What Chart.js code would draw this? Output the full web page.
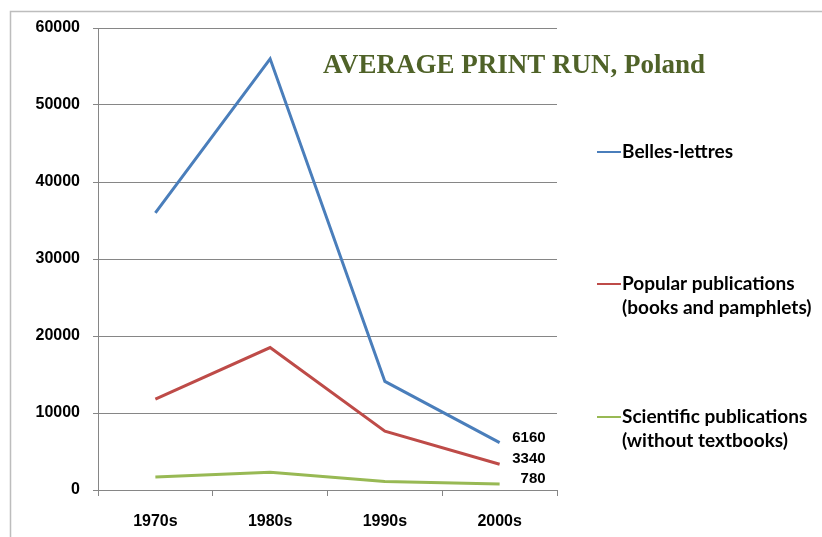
<!DOCTYPE html>
<html>
<head>
<meta charset="utf-8">
<script src="https://cdn.jsdelivr.net/npm/chart.js@4.4.1/dist/chart.umd.min.js"></script>
<style>
  html, body { margin: 0; padding: 0; background: #fff; }
  #wrap { width: 822px; height: 537px; position: relative; }
</style>
</head>
<body>
<div id="wrap"><canvas id="myChart" width="822" height="537"></canvas></div>
<script>
// Data
const decades = ['1970s', '1980s', '1990s', '2000s'];
const bellesLettres = [36000, 56000, 14100, 6160];
const popularPubs = [11800, 18500, 7640, 3340];
const scientificPubs = [1700, 2300, 1100, 780];
const yTicks = [0, 10000, 20000, 30000, 40000, 50000, 60000];

const seriesNames = [
    ['Belles-lettres'],
    ['Popular publications', '(books and pamphlets)'],
    ['Scientific publications', '(without textbooks)']
];
const seriesColors = ['#4A7EBB', '#BE4B48', '#98B954'];
const legendY = [152, 284, 417];

const chartTitle = 'AVERAGE PRINT RUN, Poland';

// frame, title, legend and end labels
const decorPlugin = {
    id: 'decor',
    beforeDraw(chart) {
        const ctx = chart.ctx;
        ctx.save();
        ctx.fillStyle = '#fff';
        ctx.fillRect(0, 0, chart.width, chart.height);
        ctx.strokeStyle = '#BDBDBD';
        ctx.lineWidth = 1.5;
        ctx.beginPath();
        ctx.moveTo(10.5, chart.height);
        ctx.lineTo(10.5, 11.5);
        ctx.lineTo(chart.width, 11.5);
        ctx.stroke();
        ctx.restore();
    },
    afterDatasetsDraw(chart) {
        const ctx = chart.ctx;
        ctx.save();

        // title
        ctx.fillStyle = '#4F6228';
        ctx.font = 'bold 27px "Liberation Serif", "Times New Roman", serif';
        ctx.textAlign = 'center';
        ctx.textBaseline = 'middle';
        ctx.fillText(chartTitle, 514, 66);

        // value labels on last points
        ctx.fillStyle = '#000';
        ctx.font = 'bold 15px "Liberation Sans", Arial, sans-serif';
        ctx.textAlign = 'right';
        chart.data.datasets.forEach((ds, i) => {
            const meta = chart.getDatasetMeta(i);
            const last = meta.data[meta.data.length - 1];
            const val = ds.data[ds.data.length - 1];
            ctx.fillText(String(val), last.x + 46, last.y - 5);
        });

        // legend
        ctx.font = 'bold 19px Lato, "Open Sans", sans-serif';
        ctx.textAlign = 'left';
        seriesNames.forEach((lines, i) => {
            const y = legendY[i];
            ctx.strokeStyle = seriesColors[i];
            ctx.lineWidth = 2;
            ctx.beginPath();
            ctx.moveTo(597, y);
            ctx.lineTo(621, y);
            ctx.stroke();
            ctx.fillStyle = '#000';
            lines.forEach((t, j) => ctx.fillText(t, 622, y + j * 24));
        });
        ctx.restore();
    }
};

const ctx = document.getElementById('myChart').getContext('2d');

new Chart(ctx, {
    type: 'line',
    data: {
        labels: decades,
        datasets: [
            { label: seriesNames[0].join(' '), data: bellesLettres, borderColor: seriesColors[0] },
            { label: seriesNames[1].join(' '), data: popularPubs, borderColor: seriesColors[1] },
            { label: seriesNames[2].join(' '), data: scientificPubs, borderColor: seriesColors[2] }
        ]
    },
    options: {
        responsive: false,
        animation: false,
        layout: { padding: { left: 0, top: 28, right: 265, bottom: 0 } },
        elements: {
            line: { borderWidth: 3, tension: 0 },
            point: { radius: 0, hoverRadius: 0 }
        },
        plugins: {
            legend: { display: false },
            tooltip: { enabled: false }
        },
        scales: {
            x: {
                offset: true,
                grid: {
                    offset: true,
                    drawOnChartArea: false,
                    color: '#868686',
                    tickLength: 6
                },
                border: { color: '#868686', width: 1 },
                ticks: {
                    color: '#000',
                    padding: 16,
                    font: { family: '"Liberation Sans", Arial, sans-serif', size: 16, weight: 'bold' }
                },
                afterFit(scale) { scale.height = 47; }
            },
            y: {
                min: 0,
                max: 60000,
                afterBuildTicks(scale) { scale.ticks = yTicks.map(v => ({ value: v })); },
                grid: { color: '#868686', tickLength: 5 },
                border: { color: '#868686', width: 1 },
                ticks: {
                    color: '#000',
                    padding: 13,
                    callback: v => String(v),
                    font: { family: '"Liberation Sans", Arial, sans-serif', size: 16, weight: 'bold' }
                },
                afterFit(scale) { scale.width = 98; }
            }
        }
    },
    plugins: [decorPlugin]
});
</script>
</body>
</html>
